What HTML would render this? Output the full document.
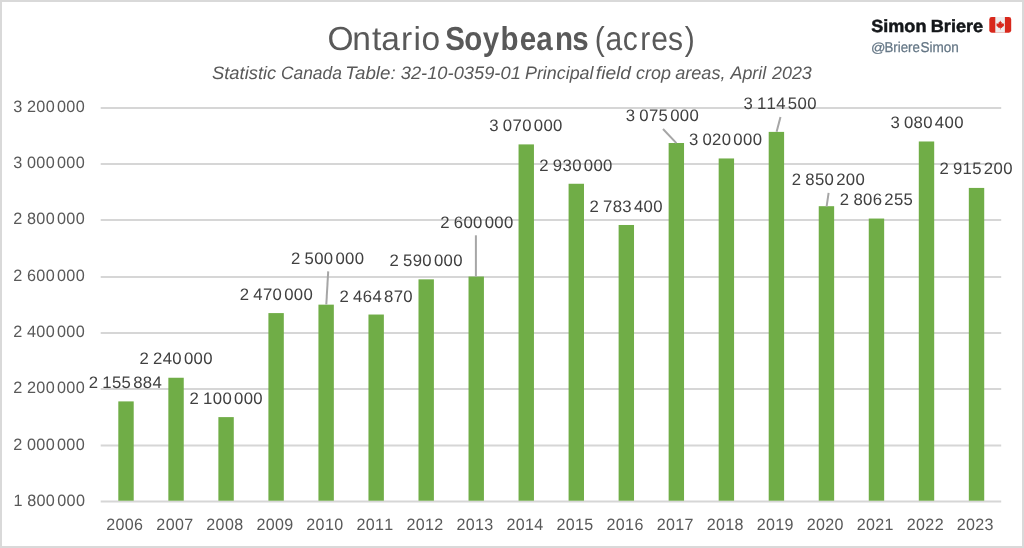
<!DOCTYPE html>
<html><head><meta charset="utf-8"><title>Ontario Soybeans (acres)</title>
<style>
html,body{margin:0;padding:0;background:#fff;}
body{width:1024px;height:548px;overflow:hidden;font-family:"Liberation Sans",sans-serif;}
svg{display:block;will-change:transform;}
</style></head><body>
<svg width="1024" height="548" viewBox="0 0 1024 548" font-family="'Liberation Sans', sans-serif" text-rendering="geometricPrecision">
<rect x="0" y="0" width="1024" height="548" fill="#d9d9d9"/>
<rect x="2" y="2" width="1020" height="544" fill="#ffffff"/>
<line x1="100.7" x2="1001.2" y1="108.00" y2="108.00" stroke="#d6d6d6" stroke-width="2.0"/>
<line x1="100.7" x2="1001.2" y1="164.00" y2="164.00" stroke="#d6d6d6" stroke-width="2.0"/>
<line x1="100.7" x2="1001.2" y1="220.00" y2="220.00" stroke="#d6d6d6" stroke-width="2.0"/>
<line x1="100.7" x2="1001.2" y1="277.00" y2="277.00" stroke="#d6d6d6" stroke-width="2.0"/>
<line x1="100.7" x2="1001.2" y1="333.00" y2="333.00" stroke="#d6d6d6" stroke-width="2.0"/>
<line x1="100.7" x2="1001.2" y1="389.00" y2="389.00" stroke="#d6d6d6" stroke-width="2.0"/>
<line x1="100.7" x2="1001.2" y1="445.50" y2="445.50" stroke="#d6d6d6" stroke-width="2.0"/>
<line x1="100.7" x2="1001.2" y1="501.45" y2="501.45" stroke="#d6d6d6" stroke-width="2.0"/>
<rect x="118.31" y="401.40" width="15.4" height="99.30" fill="#70ad47"/>
<rect x="168.35" y="377.75" width="15.4" height="122.95" fill="#70ad47"/>
<rect x="218.38" y="417.11" width="15.4" height="83.59" fill="#70ad47"/>
<rect x="268.41" y="313.09" width="15.4" height="187.61" fill="#70ad47"/>
<rect x="318.44" y="304.65" width="15.4" height="196.05" fill="#70ad47"/>
<rect x="368.47" y="314.53" width="15.4" height="186.17" fill="#70ad47"/>
<rect x="418.50" y="279.35" width="15.4" height="221.35" fill="#70ad47"/>
<rect x="468.53" y="276.54" width="15.4" height="224.16" fill="#70ad47"/>
<rect x="518.55" y="144.40" width="15.4" height="356.30" fill="#70ad47"/>
<rect x="568.59" y="183.76" width="15.4" height="316.94" fill="#70ad47"/>
<rect x="618.62" y="224.98" width="15.4" height="275.72" fill="#70ad47"/>
<rect x="668.64" y="143.00" width="15.4" height="357.70" fill="#70ad47"/>
<rect x="718.67" y="158.46" width="15.4" height="342.24" fill="#70ad47"/>
<rect x="768.70" y="131.89" width="15.4" height="368.81" fill="#70ad47"/>
<rect x="818.74" y="206.20" width="15.4" height="294.50" fill="#70ad47"/>
<rect x="868.76" y="218.55" width="15.4" height="282.15" fill="#70ad47"/>
<rect x="918.79" y="141.48" width="15.4" height="359.22" fill="#70ad47"/>
<rect x="968.82" y="187.92" width="15.4" height="312.78" fill="#70ad47"/>
<text transform="translate(13.17,112.45) scale(0.9903,1)" x="0.17 9.45 13.96 23.41 32.86 42.15 44.28 53.73 63.19" font-size="16.4" fill="#595959">3 200 000</text>
<text transform="translate(13.17,168.45) scale(0.9903,1)" x="0.17 9.45 13.96 23.41 32.86 42.15 44.28 53.73 63.19" font-size="16.4" fill="#595959">3 000 000</text>
<text transform="translate(13.17,224.45) scale(0.9903,1)" x="0.17 9.45 13.96 23.41 32.86 42.15 44.28 53.73 63.19" font-size="16.4" fill="#595959">2 800 000</text>
<text transform="translate(13.17,281.45) scale(0.9903,1)" x="0.17 9.45 13.96 23.41 32.86 42.15 44.28 53.73 63.19" font-size="16.4" fill="#595959">2 600 000</text>
<text transform="translate(13.17,337.45) scale(0.9903,1)" x="0.17 9.45 13.96 23.41 32.86 42.15 44.28 53.73 63.19" font-size="16.4" fill="#595959">2 400 000</text>
<text transform="translate(13.17,393.45) scale(0.9903,1)" x="0.17 9.45 13.96 23.41 32.86 42.15 44.28 53.73 63.19" font-size="16.4" fill="#595959">2 200 000</text>
<text transform="translate(13.17,449.95) scale(0.9903,1)" x="0.17 9.45 13.96 23.41 32.86 42.15 44.28 53.73 63.19" font-size="16.4" fill="#595959">2 000 000</text>
<text transform="translate(13.32,505.90) scale(0.9903,1)" x="0.17 9.45 13.96 23.41 32.86 42.15 44.28 53.73 63.19" font-size="16.4" fill="#595959">1 800 000</text>
<text transform="translate(106.12,529.80) scale(0.9808,1)" x="0.17 9.62 19.07 28.52" font-size="16.4" fill="#595959">2006</text>
<text transform="translate(156.21,529.80) scale(0.9808,1)" x="0.17 9.62 19.07 28.52" font-size="16.4" fill="#595959">2007</text>
<text transform="translate(206.18,529.80) scale(0.9808,1)" x="0.17 9.62 19.07 28.52" font-size="16.4" fill="#595959">2008</text>
<text transform="translate(256.23,529.80) scale(0.9808,1)" x="0.17 9.62 19.07 28.52" font-size="16.4" fill="#595959">2009</text>
<text transform="translate(306.20,529.80) scale(0.9808,1)" x="0.17 9.62 19.07 28.52" font-size="16.4" fill="#595959">2010</text>
<text transform="translate(356.31,529.80) scale(0.9808,1)" x="0.17 9.62 19.07 28.52" font-size="16.4" fill="#595959">2011</text>
<text transform="translate(406.36,529.80) scale(0.9808,1)" x="0.17 9.62 19.07 28.52" font-size="16.4" fill="#595959">2012</text>
<text transform="translate(456.33,529.80) scale(0.9808,1)" x="0.17 9.62 19.07 28.52" font-size="16.4" fill="#595959">2013</text>
<text transform="translate(506.24,529.80) scale(0.9808,1)" x="0.17 9.62 19.07 28.52" font-size="16.4" fill="#595959">2014</text>
<text transform="translate(556.37,529.80) scale(0.9808,1)" x="0.17 9.62 19.07 28.52" font-size="16.4" fill="#595959">2015</text>
<text transform="translate(606.42,529.80) scale(0.9808,1)" x="0.17 9.62 19.07 28.52" font-size="16.4" fill="#595959">2016</text>
<text transform="translate(656.51,529.80) scale(0.9808,1)" x="0.17 9.62 19.07 28.52" font-size="16.4" fill="#595959">2017</text>
<text transform="translate(706.48,529.80) scale(0.9808,1)" x="0.17 9.62 19.07 28.52" font-size="16.4" fill="#595959">2018</text>
<text transform="translate(756.53,529.80) scale(0.9808,1)" x="0.17 9.62 19.07 28.52" font-size="16.4" fill="#595959">2019</text>
<text transform="translate(806.50,529.80) scale(0.9808,1)" x="0.17 9.62 19.07 28.52" font-size="16.4" fill="#595959">2020</text>
<text transform="translate(856.61,529.80) scale(0.9808,1)" x="0.17 9.62 19.07 28.52" font-size="16.4" fill="#595959">2021</text>
<text transform="translate(906.66,529.80) scale(0.9808,1)" x="0.17 9.62 19.07 28.52" font-size="16.4" fill="#595959">2022</text>
<text transform="translate(956.63,529.80) scale(0.9808,1)" x="0.17 9.62 19.07 28.52" font-size="16.4" fill="#595959">2023</text>
<text transform="translate(88.57,388.00) scale(1.0087,1)" x="0.17 9.57 13.60 23.17 32.73 42.13 44.23 53.80 63.37" font-size="16.6" fill="#404040">2 155 884</text>
<text transform="translate(139.36,364.20) scale(1.0087,1)" x="0.17 9.57 13.60 23.17 32.73 42.13 44.23 53.80 63.37" font-size="16.6" fill="#404040">2 240 000</text>
<text transform="translate(189.41,403.80) scale(1.0087,1)" x="0.17 9.57 13.60 23.17 32.73 42.13 44.23 53.80 63.37" font-size="16.6" fill="#404040">2 100 000</text>
<text transform="translate(239.56,299.60) scale(1.0087,1)" x="0.17 9.57 13.60 23.17 32.73 42.13 44.23 53.80 63.37" font-size="16.6" fill="#404040">2 470 000</text>
<text transform="translate(290.86,263.90) scale(1.0087,1)" x="0.17 9.57 13.60 23.17 32.73 42.13 44.23 53.80 63.37" font-size="16.6" fill="#404040">2 500 000</text>
<text transform="translate(339.41,301.60) scale(1.0087,1)" x="0.17 9.57 13.60 23.17 32.73 42.13 44.23 53.80 63.37" font-size="16.6" fill="#404040">2 464 870</text>
<text transform="translate(389.31,265.50) scale(1.0087,1)" x="0.17 9.57 13.60 23.17 32.73 42.13 44.23 53.80 63.37" font-size="16.6" fill="#404040">2 590 000</text>
<text transform="translate(440.06,227.50) scale(1.0087,1)" x="0.17 9.57 13.60 23.17 32.73 42.13 44.23 53.80 63.37" font-size="16.6" fill="#404040">2 600 000</text>
<text transform="translate(489.16,130.70) scale(1.0087,1)" x="0.17 9.57 13.60 23.17 32.73 42.13 44.23 53.80 63.37" font-size="16.6" fill="#404040">3 070 000</text>
<text transform="translate(539.16,170.70) scale(1.0087,1)" x="0.17 9.57 13.60 23.17 32.73 42.13 44.23 53.80 63.37" font-size="16.6" fill="#404040">2 930 000</text>
<text transform="translate(589.36,211.50) scale(1.0087,1)" x="0.17 9.57 13.60 23.17 32.73 42.13 44.23 53.80 63.37" font-size="16.6" fill="#404040">2 783 400</text>
<text transform="translate(625.61,121.40) scale(1.0087,1)" x="0.17 9.57 13.60 23.17 32.73 42.13 44.23 53.80 63.37" font-size="16.6" fill="#404040">3 075 000</text>
<text transform="translate(688.76,144.70) scale(1.0087,1)" x="0.17 9.57 13.60 23.17 32.73 42.13 44.23 53.80 63.37" font-size="16.6" fill="#404040">3 020 000</text>
<text transform="translate(743.26,109.30) scale(1.0087,1)" x="0.17 9.57 13.60 23.17 32.73 42.13 44.23 53.80 63.37" font-size="16.6" fill="#404040">3 114 500</text>
<text transform="translate(791.61,185.40) scale(1.0087,1)" x="0.17 9.57 13.60 23.17 32.73 42.13 44.23 53.80 63.37" font-size="16.6" fill="#404040">2 850 200</text>
<text transform="translate(839.68,204.60) scale(1.0087,1)" x="0.17 9.57 13.60 23.17 32.73 42.13 44.23 53.80 63.37" font-size="16.6" fill="#404040">2 806 255</text>
<text transform="translate(890.26,127.90) scale(1.0087,1)" x="0.17 9.57 13.60 23.17 32.73 42.13 44.23 53.80 63.37" font-size="16.6" fill="#404040">3 080 400</text>
<text transform="translate(939.26,174.20) scale(1.0087,1)" x="0.17 9.57 13.60 23.17 32.73 42.13 44.23 53.80 63.37" font-size="16.6" fill="#404040">2 915 200</text>
<line x1="328.2" y1="271.4" x2="326.3" y2="304.5" stroke="#a6a6a6" stroke-width="2.0"/>
<line x1="475.9" y1="235.3" x2="475.9" y2="276.7" stroke="#a6a6a6" stroke-width="2.0"/>
<line x1="663.0" y1="129.0" x2="676.4" y2="143.1" stroke="#a6a6a6" stroke-width="2.0"/>
<line x1="780.5" y1="117.1" x2="776.6" y2="131.8" stroke="#a6a6a6" stroke-width="2.0"/>
<line x1="828.6" y1="192.9" x2="826.6" y2="206.6" stroke="#a6a6a6" stroke-width="2.0"/>
<text transform="translate(327.43,49.80) scale(1.0059,1)" x="0.00 24.64 44.24 53.40 73.14 85.59 93.53" font-size="33.3" font-weight="normal" fill="#595959">Ontario</text>
<text transform="translate(445.35,49.80) scale(0.8861,1)" x="0.00 21.29 42.29 62.39 83.97 102.60 123.72 143.31" font-size="33.3" font-weight="bold" fill="#595959">Soybeans</text>
<text transform="translate(594.83,49.80) scale(0.9017,1)" x="0.00 11.97 30.98 50.33 62.64 81.04 99.76" font-size="33.3" font-weight="normal" fill="#595959">(acres)</text>
<text transform="translate(212.00,78.70) scale(1.0196,1.0000)" font-size="18.0" font-weight="normal" font-style="italic" fill="#595959" >Statistic</text>
<text transform="translate(280.94,78.70) scale(0.9663,1.0000)" font-size="18.0" font-weight="normal" font-style="italic" fill="#595959" >Canada</text>
<text transform="translate(345.21,78.70) scale(1.0427,1.0000)" font-size="18.0" font-weight="normal" font-style="italic" fill="#595959" >Table:</text>
<text transform="translate(400.74,78.70) scale(1.0168,1.0000)" font-size="18.0" font-weight="normal" font-style="italic" fill="#595959" >32-10-0359-01</text>
<text transform="translate(524.96,78.70) scale(0.9928,1.0000)" font-size="18.0" font-weight="normal" font-style="italic" fill="#595959" >Principal</text>
<text transform="translate(595.83,78.70) scale(1.0654,1.0000)" font-size="18.0" font-weight="normal" font-style="italic" fill="#595959" >field</text>
<text transform="translate(636.02,78.70) scale(0.9945,1.0000)" font-size="18.0" font-weight="normal" font-style="italic" fill="#595959" >crop</text>
<text transform="translate(675.19,78.70) scale(1.0049,1.0000)" font-size="18.0" font-weight="normal" font-style="italic" fill="#595959" >areas,</text>
<text transform="translate(730.55,78.70) scale(0.9903,1.0000)" font-size="18.0" font-weight="normal" font-style="italic" fill="#595959" >April</text>
<text transform="translate(771.99,78.70) scale(0.9935,1.0000)" font-size="18.0" font-weight="normal" font-style="italic" fill="#595959" >2023</text>
<text transform="translate(871.26,32.30) scale(1.0311,1.0000)" font-size="17.5" font-weight="bold" font-style="normal" fill="#14171a" stroke="#14171a" stroke-width="0.5">Simon</text>
<text transform="translate(930.78,32.30) scale(1.0343,1.0000)" font-size="17.5" font-weight="bold" font-style="normal" fill="#14171a" stroke="#14171a" stroke-width="0.5">Briere</text>
<text transform="translate(871.00,51.80) scale(1.0784,1.0000)" font-size="13.2" font-weight="normal" font-style="normal" fill="#657786" stroke="#657786" stroke-width="0.25">@</text>
<text transform="translate(884.51,51.80) scale(0.9269,1.0000)" font-size="14.3" font-weight="normal" font-style="normal" fill="#657786" stroke="#657786" stroke-width="0.25">Briere</text>
<text transform="translate(920.49,51.80) scale(0.9478,1.0000)" font-size="14.3" font-weight="normal" font-style="normal" fill="#657786" stroke="#657786" stroke-width="0.25">Simon</text>
<g transform="translate(989.3,17.0)">
<rect x="0" y="0" width="21.9" height="15.7" rx="2.4" fill="#d8281c"/>
<rect x="6.0" y="0" width="9.6" height="15.7" fill="#eeeeee"/>
<path d="M10.95 3.4 L11.8 5.3 L12.6 4.9 L12.3 7.0 L13.3 6.0 L13.6 6.8 L15.0 6.5 L14.4 8.2 L15.0 8.7 L12.7 10.2 L12.9 11.0 L11.25 10.7 L11.25 12.4 L10.65 12.4 L10.65 10.7 L9.0 11.0 L9.2 10.2 L6.9 8.7 L7.5 8.2 L6.9 6.5 L8.3 6.8 L8.6 6.0 L9.6 7.0 L9.3 4.9 L10.1 5.3 Z" fill="#d8281c"/>
</g>
</svg>
</body></html>
